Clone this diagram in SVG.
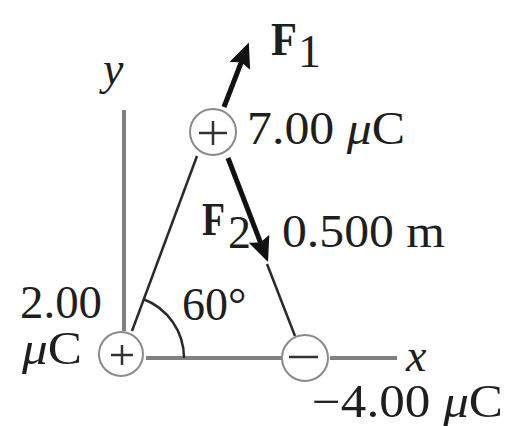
<svg xmlns="http://www.w3.org/2000/svg" width="508" height="426" viewBox="0 0 508 426">
<style>
text{font-family:"Liberation Serif","Times New Roman",serif;fill:#1e1e1e;font-size:46px}
.b{font-weight:bold}
.i{font-style:italic}
.axis{stroke:#808080;stroke-width:4;fill:none}
.edge{stroke:#2a2a2a;stroke-width:2.5;fill:none}
.force{stroke:#111;stroke-width:5;fill:none;marker-end:url(#ah)}
.chg{fill:#fff;stroke:#8a8a8a;stroke-width:2}
.sign{stroke:#333;stroke-width:2.5;fill:none}
</style>
<defs>
<marker id="ah" markerUnits="userSpaceOnUse" markerWidth="30" markerHeight="24" refX="6" refY="11" orient="auto">
<path d="M0,0 L25,11 L0,22 L4,11 Z" fill="#111"/>
</marker>
</defs>
<rect width="508" height="426" fill="#fff"/>
<g id="connectors">
<line class="axis" x1="124" y1="110" x2="124" y2="331"/>
<line class="axis" x1="146" y1="358" x2="282" y2="358"/>
<line class="axis" x1="330" y1="358" x2="397" y2="358"/>
<line class="edge" x1="197" y1="156" x2="132" y2="331"/>
<line class="edge" x1="267" y1="264" x2="295" y2="336"/>
<path class="edge" d="M143,299 A63,63 0 0 1 184,358"/>
<line class="force" x1="224" y1="107" x2="242" y2="60.3"/>
<line class="force" x1="228" y1="158" x2="261.2" y2="244.3"/>
</g>
<g id="charge-top">
<circle class="chg" cx="213" cy="132" r="23"/>
<path class="sign" d="M199,133 H227 M213,121 V145"/>
<text x="247" y="144" textLength="158" lengthAdjust="spacingAndGlyphs">7.00 <tspan class="i">μ</tspan>C</text>
</g>
<g id="charge-left">
<circle class="chg" cx="121" cy="354" r="22"/>
<path class="sign" d="M111,355 H133 M122,345 V365"/>
<text x="20" y="318" font-size="44" textLength="82" lengthAdjust="spacingAndGlyphs">2.00</text>
<text x="22" y="364" font-size="44" textLength="60" lengthAdjust="spacingAndGlyphs"><tspan class="i">μ</tspan>C</text>
</g>
<g id="charge-right">
<circle class="chg" cx="305" cy="358" r="23"/>
<path class="sign" d="M289,357 H318"/>
<text x="312" y="417" textLength="191" lengthAdjust="spacingAndGlyphs">−4.00 <tspan class="i">μ</tspan>C</text>
</g>
<g id="labels">
<text class="b" x="271" y="55" font-size="42" textLength="26" lengthAdjust="spacingAndGlyphs">F</text>
<text x="298" y="67" font-size="28">1</text>
<text class="b" x="202" y="235" font-size="42" textLength="23" lengthAdjust="spacingAndGlyphs">F</text>
<text x="228" y="248" font-size="28">2</text>
<text x="282" y="247" textLength="163" lengthAdjust="spacingAndGlyphs">0.500 m</text>
<text x="182" y="320">60°</text>
<text class="i" x="103" y="84">y</text>
<text class="i" x="406" y="371">x</text>
</g>
</svg>
